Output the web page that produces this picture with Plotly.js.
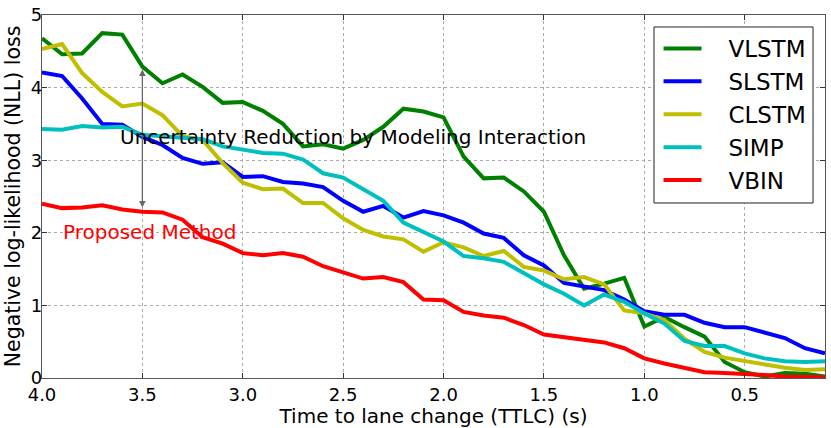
<!DOCTYPE html>
<html>
<head>
<meta charset="utf-8">
<script src="https://cdn.plot.ly/plotly-3.0.1.min.js"></script>
<style>
  html, body { margin: 0; padding: 0; background: #fff; }
  #chart { width: 831px; height: 428px; }
</style>
</head>
<body>
<div id="chart"></div>
<script>
// time to lane change (s), left to right
const TTLC = [4.0, 3.9, 3.8, 3.7, 3.6, 3.5, 3.4, 3.3, 3.2, 3.1,
              3.0, 2.9, 2.8, 2.7, 2.6, 2.5, 2.4, 2.3, 2.2, 2.1,
              2.0, 1.9, 1.8, 1.7, 1.6, 1.5, 1.4, 1.3, 1.2, 1.1,
              1.0, 0.9, 0.8, 0.7, 0.6, 0.5, 0.4, 0.3, 0.2, 0.1];

const VLSTM = [4.68, 4.46, 4.47, 4.75, 4.73, 4.29, 4.06, 4.18, 4.01, 3.79,
               3.80, 3.68, 3.50, 3.19, 3.22, 3.16, 3.28, 3.46, 3.71, 3.67,
               3.59, 3.05, 2.75, 2.76, 2.57, 2.29, 1.69, 1.23, 1.30, 1.38,
               0.71, 0.84, 0.70, 0.57, 0.22, 0.08, 0.02, 0.07, 0.06, 0.02];
const SLSTM = [4.21, 4.16, 3.85, 3.50, 3.49, 3.32, 3.21, 3.03, 2.95, 2.97,
               2.77, 2.78, 2.70, 2.68, 2.63, 2.44, 2.29, 2.37, 2.21, 2.30,
               2.24, 2.14, 1.99, 1.93, 1.69, 1.55, 1.31, 1.26, 1.21, 1.08,
               0.92, 0.87, 0.87, 0.76, 0.70, 0.70, 0.63, 0.55, 0.41, 0.34];
const CLSTM = [4.53, 4.60, 4.20, 3.94, 3.74, 3.78, 3.62, 3.33, 3.28, 2.96,
               2.69, 2.60, 2.61, 2.41, 2.41, 2.20, 2.04, 1.95, 1.91, 1.74,
               1.87, 1.80, 1.68, 1.75, 1.53, 1.48, 1.36, 1.39, 1.29, 0.93,
               0.89, 0.80, 0.54, 0.36, 0.28, 0.23, 0.18, 0.14, 0.11, 0.12];
const SIMP  = [3.43, 3.42, 3.47, 3.45, 3.46, 3.35, 3.33, 3.31, 3.29, 3.19,
               3.15, 3.10, 3.09, 3.01, 2.82, 2.76, 2.60, 2.44, 2.14, 2.01,
               1.88, 1.68, 1.65, 1.60, 1.44, 1.29, 1.16, 1.00, 1.15, 1.05,
               0.89, 0.75, 0.51, 0.44, 0.44, 0.34, 0.27, 0.23, 0.22, 0.23];
const VBIN  = [2.40, 2.34, 2.35, 2.38, 2.32, 2.29, 2.28, 2.18, 1.94, 1.85,
               1.72, 1.69, 1.72, 1.67, 1.54, 1.45, 1.37, 1.39, 1.32, 1.08,
               1.07, 0.91, 0.86, 0.83, 0.73, 0.60, 0.56, 0.53, 0.49, 0.41,
               0.27, 0.20, 0.14, 0.08, 0.07, 0.06, 0.04, 0.02, 0.01, 0.01];

const SERIES_NAMES  = ['VLSTM', 'SLSTM', 'CLSTM', 'SIMP', 'VBIN'];
const SERIES_VALUES = [VLSTM, SLSTM, CLSTM, SIMP, VBIN];
const SERIES_COLORS = ['#008000', '#0000ff', '#bfbf00', '#00bfbf', '#ff0000'];

const X_TICKS = [4.0, 3.5, 3.0, 2.5, 2.0, 1.5, 1.0, 0.5];
const X_TICK_TEXT = ['4.0', '3.5', '3.0', '2.5', '2.0', '1.5', '1.0', '0.5'];
const Y_TICKS = [0, 1, 2, 3, 4, 5];

// arrow spans the gap between VLSTM and VBIN at 3.5 s
const ARROW_X = 3.5, ARROW_TOP = 4.27, ARROW_BOTTOM = 2.35;

const FONT = "'DejaVu Sans', sans-serif";
const PAD = '\u00a0\u00a0\u00a0';   // gap between legend line and label

const traces = SERIES_NAMES.map((name, k) => ({
  type: 'scatter', mode: 'lines',
  name: PAD + name,
  x: TTLC, y: SERIES_VALUES[k],
  line: { color: SERIES_COLORS[k], width: 4 },
}));

const axisBase = {
  showline: true, linecolor: '#555', linewidth: 1.2, mirror: 'allticks',
  ticks: 'inside', ticklen: 5, tickcolor: '#333',
  showgrid: true, gridcolor: '#aaa', griddash: 'dot', gridwidth: 1,
  zeroline: false,
  tickfont: { family: FONT, size: 18, color: '#000' },
};

const layout = {
  width: 831, height: 428,
  paper_bgcolor: '#fff', plot_bgcolor: '#fff',
  margin: { l: 42, r: 6, t: 15, b: 50 },
  font: { family: FONT, color: '#000' },
  showlegend: true,
  xaxis: {
    ...axisBase,
    range: [4.0, 0.1],
    tickvals: X_TICKS, ticktext: X_TICK_TEXT,
    title: { text: 'Time to lane change (TTLC) (s)', font: { family: FONT, size: 20 }, standoff: 0 },
  },
  yaxis: {
    ...axisBase,
    range: [0, 5],
    tickvals: Y_TICKS,
    ticklabelstandoff: -5,
    title: { text: 'Negative log-likelihood (NLL) loss', font: { family: FONT, size: 20.5 }, standoff: 4 },
  },
  legend: {
    x: 0.7874, y: 0.967, xanchor: 'left', yanchor: 'top',
    bgcolor: 'rgba(0,0,0,0)', borderwidth: 0,
    font: { family: FONT, size: 23, color: '#000' },
    itemwidth: 38,
    tracegroupgap: 0,
  },
  shapes: [{
    // legend frame
    type: 'rect', xref: 'paper', yref: 'paper', layer: 'above',
    x0: 0.7816, x1: 0.9847, y0: 0.4821, y1: 0.967,
    fillcolor: '#fff', line: { color: '#222', width: 1 },
  }],
  annotations: [
    {
      x: ARROW_X, y: ARROW_BOTTOM, ax: ARROW_X, ay: ARROW_TOP,
      xref: 'x', yref: 'y', axref: 'x', ayref: 'y',
      text: '', showarrow: true, arrowside: 'end+start',
      arrowhead: 2, startarrowhead: 2, arrowsize: 1, startarrowsize: 1,
      arrowwidth: 1.3, arrowcolor: '#666',
    },
    {
      x: 3.62, y: 3.32, xref: 'x', yref: 'y',
      xanchor: 'left', yanchor: 'middle', showarrow: false,
      text: 'Uncertainty Reduction by Modeling Interaction',
      font: { family: FONT, size: 20, color: '#000' },
    },
    {
      x: 3.905, y: 2.01, xref: 'x', yref: 'y',
      xanchor: 'left', yanchor: 'middle', showarrow: false,
      text: 'Proposed Method',
      font: { family: FONT, size: 20, color: '#ff0000' },
    },
  ],
};

Plotly.newPlot('chart', traces, layout, { displayModeBar: false, staticPlot: true });
</script>
</body>
</html>
